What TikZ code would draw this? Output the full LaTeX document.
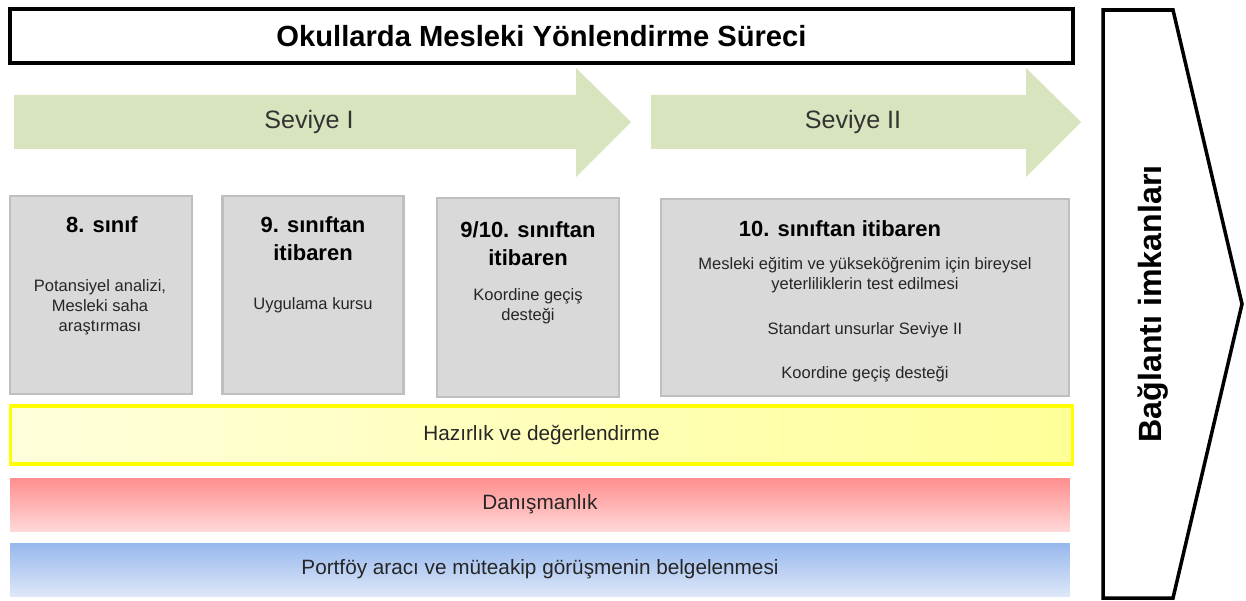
\documentclass[tikz,border=0pt]{standalone}
\usepackage{fontspec}
\setmainfont{Liberation Sans}
\definecolor{levelgreen}{HTML}{D7E4BD}
\definecolor{boxgray}{HTML}{D9D9D9}
\definecolor{boxedge}{HTML}{BFBFBF}
\definecolor{prepedge}{HTML}{FFFF00}
\definecolor{prepleft}{HTML}{FFFFDC}
\definecolor{prepright}{HTML}{FFFF99}
\definecolor{redtop}{HTML}{FF8E8E}
\definecolor{redbottom}{HTML}{FFD8D8}
\definecolor{bluetop}{HTML}{97B8EE}
\definecolor{bluebottom}{HTML}{DDE7F8}
\begin{document}
\begin{tikzpicture}[
  x=0.02cm, y=-0.02cm,
  titlebox/.style={rectangle, draw, line width=2pt, fill=white, inner sep=0pt},
  gradebox/.style={rectangle, draw=boxedge, fill=boxgray, line width=1.6pt, inner sep=0pt},
  head/.style={align=center, font=\fontsize{12.5}{15.8}\selectfont\bfseries},
  body/.style={align=center, font=\fontsize{9.4}{11.5}\selectfont, text=black!85},
  band/.style={rectangle, inner sep=0pt, minimum height=1.06cm, font=\fontsize{11.8}{14}\selectfont, text=black!85},
  level/.style={font=\fontsize{14.3}{17}\selectfont, text=black!80}
]
\useasboundingbox (0,0) rectangle (1246,601);

% Title
\node[titlebox, minimum width=21.26cm, minimum height=1.08cm] (title) at (541.5,36)
  {\fontsize{16.6}{20}\selectfont\bfseries Okullarda Mesleki Yönlendirme Süreci};

% Level arrows
\fill[levelgreen] (14,95) -- (576,95) -- (576,68) -- (631,122) -- (576,177) -- (576,149) -- (14,149) -- cycle;
\fill[levelgreen] (651,95) -- (1026,95) -- (1026,68) -- (1081,122) -- (1026,177) -- (1026,149) -- (651,149) -- cycle;
\node[level] (lvl1) at (309,122) {Seviye I};
\node[level] (lvl2) at (853,122) {Seviye II};

% Grade boxes
\node[gradebox, minimum width=3.64cm, minimum height=3.96cm] (g8) at (101,295) {};
\node[gradebox, minimum width=3.62cm, minimum height=3.96cm] (g9) at (313,295) {};
\node[gradebox, minimum width=3.64cm, minimum height=3.98cm] (g910) at (528,297.5) {};
\node[gradebox, minimum width=8.16cm, minimum height=3.94cm] (g10) at (865,297.5) {};

% Box texts
\node[head] (h8) at (102,225) {8. sınıf};
\node[body] (b8) at (100,307) {Potansiyel analizi,\\Mesleki saha\\araştırması};
\node[head] (h9) at (313,239) {9. sınıftan\\itibaren};
\node[body] (b9) at (313,305) {Uygulama kursu};
\node[head] (h910) at (528,244) {9/10. sınıftan\\itibaren};
\node[body] (b910) at (528,306) {Koordine geçiş\\desteği};
\node[head] (h10) at (840,229) {10. sınıftan itibaren};
\node[body] (b10a) at (865,275) {Mesleki eğitim ve yükseköğrenim için bireysel\\yeterliliklerin test edilmesi};
\node[body] (b10b) at (865,330) {Standart unsurlar Seviye II};
\node[body] (b10c) at (865,374) {Koordine geçiş desteği};

% Bands
\node[band, draw=prepedge, line width=1.8pt, left color=prepleft, right color=prepright,
  minimum width=21.26cm, minimum height=1.16cm] (prep) at (541.5,435) {Hazırlık ve değerlendirme};
\node[band, top color=redtop, bottom color=redbottom, minimum width=21.2cm] (advice) at (540,504.5) {Danışmanlık};
\node[band, top color=bluetop, bottom color=bluebottom, minimum width=21.2cm] (folio) at (540,569.5)
  {Portföy aracı ve müteakip görüşmenin belgelenmesi};

% Connection chevron
\draw[line width=2pt] (1103,10) -- (1173,10) -- (1242,304) -- (1173,598) -- (1103,598) -- cycle;
\node[rotate=90, font=\fontsize{18.3}{22}\selectfont\bfseries] (link) at (1153,304) {Bağlantı imkanları};

\end{tikzpicture}
\end{document}
